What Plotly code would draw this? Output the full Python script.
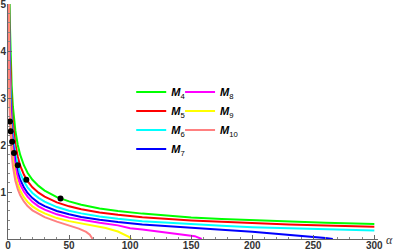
import plotly.graph_objects as go

# Curves M4..M10: alpha values and y values
alpha_M4 = [0.3, 0.5, 1, 1.5, 2, 3, 4, 5, 6, 8, 10, 13, 16, 20, 25, 30, 40, 50, 60, 75, 90, 110, 130, 150, 175, 200, 230, 260, 300]
y_M4 = [10.3, 8.0, 5.65, 4.61, 4.0, 3.26, 2.82, 2.53, 2.31, 2.0, 1.79, 1.57, 1.41, 1.26, 1.13, 1.03, 0.89, 0.80, 0.73, 0.65, 0.595, 0.54, 0.495, 0.46, 0.425, 0.40, 0.37, 0.345, 0.32]

alpha_M5 = [0.3, 0.5, 1, 1.5, 2, 3, 4, 5, 6, 8, 10, 13, 16, 20, 25, 30, 40, 50, 60, 75, 90, 110, 130, 150, 175, 200, 230, 260, 300]
y_M5 = [9.0, 7.0, 4.95, 4.04, 3.5, 2.86, 2.47, 2.21, 2.02, 1.75, 1.56, 1.37, 1.23, 1.10, 0.985, 0.90, 0.78, 0.695, 0.635, 0.565, 0.515, 0.465, 0.425, 0.395, 0.365, 0.335, 0.31, 0.285, 0.26]

alpha_M6 = [0.3, 0.5, 1, 1.5, 2, 3, 4, 5, 6, 8, 10, 13, 16, 20, 25, 30, 40, 50, 60, 75, 90, 110, 130, 150, 175, 200, 230, 260, 300]
y_M6 = [8.1, 6.3, 4.45, 3.63, 3.15, 2.57, 2.22, 1.99, 1.81, 1.57, 1.40, 1.23, 1.10, 0.98, 0.875, 0.795, 0.68, 0.60, 0.545, 0.48, 0.43, 0.38, 0.345, 0.31, 0.28, 0.25, 0.225, 0.20, 0.18]

alpha_M7 = [0.3, 0.5, 1, 1.5, 2, 3, 4, 5, 6, 8, 10, 13, 16, 20, 25, 30, 40, 50, 60, 75, 90, 110, 130, 150, 175, 200, 230, 250, 260, 266]
y_M7 = [7.5, 5.8, 4.1, 3.34, 2.9, 2.36, 2.04, 1.82, 1.65, 1.42, 1.26, 1.10, 0.98, 0.87, 0.77, 0.70, 0.595, 0.525, 0.47, 0.41, 0.36, 0.31, 0.27, 0.235, 0.195, 0.155, 0.095, 0.045, 0.02, 0.0]

alpha_M8 = [0.3, 0.5, 1, 1.5, 2, 3, 4, 5, 6, 8, 10, 13, 16, 20, 25, 30, 40, 50, 60, 75, 90, 100, 110, 130, 145, 153, 158.6]
y_M8 = [6.9, 5.4, 3.8, 3.1, 2.69, 2.19, 1.89, 1.68, 1.53, 1.31, 1.16, 1.01, 0.90, 0.79, 0.695, 0.625, 0.525, 0.455, 0.405, 0.345, 0.29, 0.23, 0.20, 0.135, 0.09, 0.06, 0.0]

alpha_M9 = [0.3, 0.5, 1, 1.5, 2, 3, 4, 5, 6, 8, 10, 13, 16, 20, 25, 30, 40, 50, 60, 70, 80, 90, 96, 99, 101]
y_M9 = [6.2, 4.8, 3.4, 2.78, 2.4, 1.96, 1.69, 1.5, 1.36, 1.17, 1.03, 0.89, 0.79, 0.695, 0.61, 0.545, 0.445, 0.38, 0.33, 0.285, 0.235, 0.16, 0.09, 0.045, 0.0]

alpha_M10 = [0.3, 0.5, 1, 1.5, 2, 3, 4, 5, 6, 8, 10, 13, 16, 20, 25, 30, 40, 50, 58, 64, 67, 69.3]
y_M10 = [5.75, 4.45, 3.15, 2.57, 2.22, 1.8, 1.55, 1.37, 1.24, 1.06, 0.93, 0.80, 0.70, 0.61, 0.53, 0.465, 0.37, 0.29, 0.22, 0.15, 0.09, 0.0]

dots_alpha = [1.6, 2.2, 3.4, 4.9, 8, 15, 43]
dots_y = [2.5, 2.29, 2.07, 1.83, 1.57, 1.26, 0.86]

x_ticks = [0, 50, 100, 150, 200, 250, 300]
y_ticks = [1, 2, 3, 4, 5]

series = [
    ("4", alpha_M4, y_M4, "#00ff00", "legend"),
    ("5", alpha_M5, y_M5, "#ff0000", "legend"),
    ("6", alpha_M6, y_M6, "#00ffff", "legend"),
    ("7", alpha_M7, y_M7, "#0000ff", "legend"),
    ("8", alpha_M8, y_M8, "#ff00ff", "legend2"),
    ("9", alpha_M9, y_M9, "#ffff00", "legend2"),
    ("10", alpha_M10, y_M10, "#ff8080", "legend2"),
]

fig = go.Figure()
for name, xs, ys, col, lg in series:
    fig.add_trace(go.Scatter(
        x=xs, y=ys, mode="lines", line=dict(color=col, width=2),
        name="<b><i>M</i></b><sub>" + name + "</sub>", legend=lg, cliponaxis=True))

fig.add_trace(go.Scatter(x=dots_alpha, y=dots_y, mode="markers",
                         marker=dict(color="black", size=6), showlegend=False))

tickfont = dict(family="Liberation Sans", size=10, color="#333333", weight="bold")
legfont = dict(family="Liberation Sans", size=11, color="black")
fig.update_layout(
    width=396, height=250,
    margin=dict(l=8, r=18, t=4, b=11),
    paper_bgcolor="white", plot_bgcolor="white",
    xaxis=dict(range=[0, 303], showgrid=False, zeroline=False, showline=True,
               linecolor="#666666", linewidth=1, ticks="inside", ticklen=4,
               tickcolor="#666666", tickvals=x_ticks, tickfont=tickfont,
               ticklabelstandoff=-3, ticklabeloverflow="allow",
               minor=dict(dtick=10, ticks="inside", ticklen=2, tickcolor="#888888"),
               automargin=False),
    yaxis=dict(range=[0, 5], showgrid=False, zeroline=False, showline=True,
               linecolor="#666666", linewidth=1, ticks="inside", ticklen=4,
               tickcolor="#666666", tickvals=y_ticks, tickfont=tickfont,
               ticklabelstandoff=-1, ticklabeloverflow="allow",
               minor=dict(dtick=0.2, ticks="inside", ticklen=2, tickcolor="#888888"),
               automargin=False),
    legend=dict(x=0.333, y=0.687, xanchor="left", yanchor="top",
                bgcolor="rgba(0,0,0,0)", font=legfont, itemwidth=30, tracegroupgap=0),
    legend2=dict(x=0.465, y=0.687, xanchor="left", yanchor="top",
                 bgcolor="rgba(0,0,0,0)", font=legfont, itemwidth=30, tracegroupgap=0),
    annotations=[dict(x=303, y=0, xref="x", yref="y", text="<i>α</i>", showarrow=False,
                      xanchor="left", yanchor="middle", xshift=6, yshift=-1,
                      font=dict(family="Liberation Serif", size=12, color="#333333"))],
)

fig.write_html("out.html", config={"displayModeBar": False},
               post_script="document.body.style.margin='0';document.body.style.overflow='hidden';")
